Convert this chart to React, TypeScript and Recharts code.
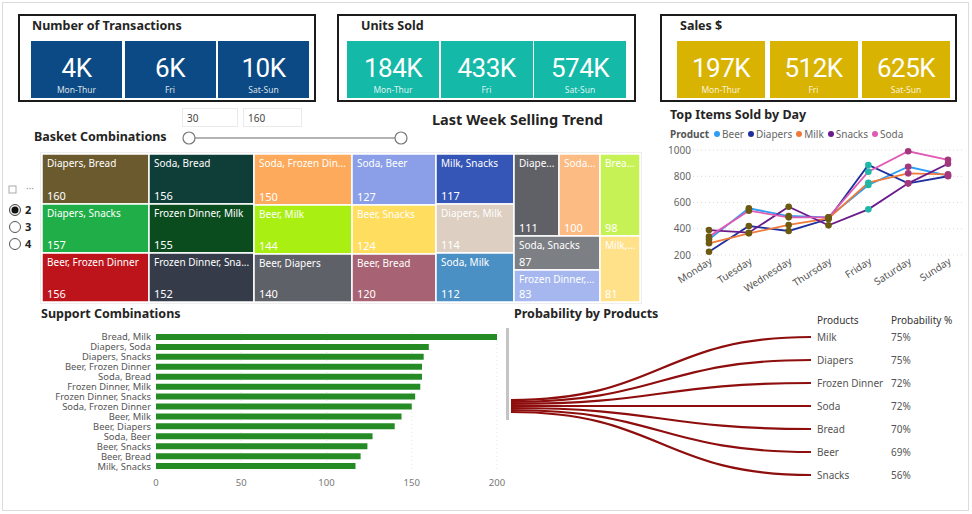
import React from "react";
import { Bar, BarChart, CartesianGrid, Line, LineChart, Sankey, Treemap, XAxis, YAxis } from "recharts";

const FONT = "'Noto Sans', 'Open Sans', sans-serif";

// KPI cards
const kpiPeriods = ["Mon-Thur", "Fri", "Sat-Sun"];
const transactions = ["4K", "6K", "10K"];
const unitsSold = ["184K", "433K", "574K"];
const salesDollars = ["197K", "512K", "625K"];

// basket combinations (treemap)
const basketNames = [
  "Diapers, Bread", "Diapers, Snacks", "Beer, Frozen Dinner", "Soda, Bread", "Frozen Dinner, Milk",
  "Frozen Dinner, Snacks", "Soda, Frozen Dinner", "Beer, Milk", "Beer, Diapers", "Soda, Beer",
  "Beer, Snacks", "Beer, Bread", "Milk, Snacks", "Diapers, Milk", "Soda, Milk",
  "Diapers, Frozen Dinner", "Soda, Diapers", "Bread, Snacks", "Soda, Snacks", "Frozen Dinner, Bread", "Milk, Bread"
];
const basketValues = [160, 157, 156, 156, 155, 152, 150, 144, 140, 127, 124, 120, 117, 114, 112, 111, 100, 98, 87, 83, 81];
const basketColors = [
  "#6b5a2e", "#1fae47", "#bd141b", "#0f3d37", "#0b4c1f",
  "#353b49", "#fdaa5c", "#a9f012", "#5e6168", "#8a9fe8",
  "#ffdd5e", "#a76373", "#3656b7", "#ddcfc1", "#4b90c5",
  "#5f6167", "#fcbb82", "#c7f255", "#7c7f84", "#a5b7ee", "#ffe18a"
];

// top items sold by day
const days = ["Monday", "Tuesday", "Wednesday", "Thursday", "Friday", "Saturday", "Sunday"];
const beer = [319, 556, 497, 487, 733, 872, 805];
const diapers = [225, 421, 383, 474, 886, 746, 800];
const milk = [289, 365, 429, 479, 751, 822, 815];
const snacks = [390, 370, 568, 426, 548, 746, 895];
const soda = [340, 538, 487, 487, 835, 990, 925];
const lineColors = { Beer: "#2b9df2", Diapers: "#1f2f9c", Milk: "#f07a3a", Snacks: "#6b1b8c", Soda: "#e05ab4" };
const markerColors = ["#6b5a10", "#6b5a10", "#6b5a10", "#6b5a10", "#1fb8a6", "#a3377c", "#a3377c"];

// support combinations
const supportNames = [
  "Bread, Milk", "Diapers, Soda", "Diapers, Snacks", "Beer, Frozen Dinner", "Soda, Bread",
  "Frozen Dinner, Milk", "Frozen Dinner, Snacks", "Soda, Frozen Dinner", "Beer, Milk", "Beer, Diapers",
  "Soda, Beer", "Beer, Snacks", "Beer, Bread", "Milk, Snacks"
];
const supportValues = [200, 160, 157, 156, 156, 155, 152, 150, 144, 140, 127, 124, 120, 117];
const supportTicks = [0, 50, 100, 150, 200];

// probability by products
const products = ["Milk", "Diapers", "Frozen Dinner", "Soda", "Bread", "Beer", "Snacks"];
const probabilities = [75, 75, 72, 72, 70, 69, 56];

const colorByName: Record<string, string> = {};
basketNames.forEach((n, i) => (colorByName[n] = basketColors[i]));
const basketData = basketNames.map((name, i) => ({ name, value: basketValues[i] }));

const trendData = days.map((day, i) => ({
  day,
  Beer: beer[i],
  Diapers: diapers[i],
  Milk: milk[i],
  Snacks: snacks[i],
  Soda: soda[i]
}));

const supportData = supportNames.map((name, i) => ({ name, value: supportValues[i] }));

const sankeyData = {
  nodes: [{ name: "All" }, ...products.map((name) => ({ name }))],
  links: products.map((_, i) => ({ source: 0, target: i + 1, value: 1 }))
};

let measureCtx: CanvasRenderingContext2D | null = null;
function textWidth(text: string, font: string) {
  if (!measureCtx) measureCtx = document.createElement("canvas").getContext("2d");
  if (!measureCtx) return text.length * 6;
  measureCtx.font = font;
  return measureCtx.measureText(text).width;
}
function fitText(text: string, maxW: number, font: string) {
  if (textWidth(text, font) <= maxW) return text;
  let t = text;
  while (t.length > 1 && textWidth(t + "...", font) > maxW) t = t.slice(0, -1);
  return t.trimEnd() + "...";
}

function Text({ x, y, size = 12, weight = 400, color = "#252423", children, style }: any) {
  return (
    <div
      style={{
        position: "absolute",
        left: x,
        top: y - 10,
        height: 20,
        lineHeight: "20px",
        fontSize: size,
        fontWeight: weight,
        color,
        whiteSpace: "nowrap",
        ...style
      }}
    >
      {children}
    </div>
  );
}

function KpiGroup({ left, width, title, titleX, tileX, tileW, tileStep, values, color }: any) {
  return (
    <>
      <div style={{ position: "absolute", left, top: 14, width: width - 4, height: 84, border: "2px solid #1b1b1b" }} />
      <Text x={titleX} y={26} size={12.5} weight={700}>
        {title}
      </Text>
      {values.map((v: string, i: number) => (
        <div
          key={i}
          style={{ position: "absolute", left: tileX + i * tileStep, top: 41, width: tileW, height: 57, background: color }}
        >
          <div
            style={{
              position: "absolute",
              top: 12,
              width: "100%",
              textAlign: "center",
              color: "#fff",
              fontFamily: "Roboto, sans-serif",
              fontSize: 26,
              letterSpacing: -0.5,
              lineHeight: "30px"
            }}
          >
            {v}
          </div>
          <div
            style={{
              position: "absolute",
              top: 43,
              width: "100%",
              textAlign: "center",
              color: "rgba(255,255,255,0.85)",
              fontSize: 8.5,
              lineHeight: "12px"
            }}
          >
            {kpiPeriods[i]}
          </div>
        </div>
      ))}
    </>
  );
}

function TreeCell(props: any) {
  const { x, y, width, height, depth, name, value } = props;
  if (depth !== 1) return <g />;
  const font = `10px ${FONT}`;
  return (
    <g>
      <rect x={x} y={y} width={width} height={height} fill={colorByName[name]} stroke="#fff" strokeWidth={1.5} />
      <text x={x + 5} y={y + 13} fill="#fff" stroke="none" fontWeight={400} fontSize={10} fontFamily={FONT}>
        {fitText(name, width - 8, font)}
      </text>
      <text x={x + 5} y={y + height - 4} fill="#fff" stroke="none" fontWeight={400} fontSize={11} fontFamily={FONT}>
        {value}
      </text>
    </g>
  );
}

function TrendDot(props: any) {
  const { cx, cy, index } = props;
  if (cx == null || cy == null) return <g />;
  return <circle cx={cx} cy={cy} r={3.3} fill={markerColors[index]} />;
}

function SupportTick(props: any) {
  const { x, y, payload } = props;
  return (
    <text x={x} y={y} textAnchor="end" dominantBaseline="central" fontSize={9.4} fill="#555" fontFamily={FONT}>
      {payload.value}
    </text>
  );
}

function ProbLink(props: any) {
  const { sourceX, sourceY, targetX, targetY, sourceControlX, targetControlX } = props;
  return (
    <path
      d={`M${sourceX},${sourceY} C${sourceControlX},${sourceY} ${targetControlX},${targetY} ${targetX},${targetY}`}
      fill="none"
      stroke="#8e0d0d"
      strokeWidth={2.2}
    />
  );
}

function ProbNode(props: any) {
  const { x, y, width, height, index, payload } = props;
  if (index === 0) return <g />;
  const cy = y + height / 2;
  const i = products.indexOf(payload.name);
  return (
    <g fontFamily={FONT} fontSize={10} fill="#555">
      <text x={x + width + 4} y={cy} dominantBaseline="central">
        {payload.name}
      </text>
      <text x={x + width + 78} y={cy} dominantBaseline="central">
        {probabilities[i]}%
      </text>
    </g>
  );
}

export default function App() {
  const series = ["Beer", "Diapers", "Milk", "Snacks", "Soda"] as const;
  return (
    <div
      style={{
        position: "absolute",
        left: 0,
        top: 0,
        width: 972,
        height: 514,
        background: "#fff",
        overflow: "hidden",
        fontFamily: FONT,
        color: "#252423"
      }}
    >
      <div style={{ position: "absolute", left: 2, top: 2, width: 965, height: 507, border: "1.5px solid #dcdcdc" }} />

      <KpiGroup left={18} width={298} title="Number of Transactions" titleX={32} tileX={31} tileW={91} tileStep={93.5} values={transactions} color="#0b4a84" />
      <KpiGroup left={337} width={299} title="Units Sold" titleX={361} tileX={347} tileW={92} tileStep={93.5} values={unitsSold} color="#15b9a8" />
      <KpiGroup left={660} width={297} title="Sales $" titleX={680} tileX={677} tileW={88} tileStep={92.5} values={salesDollars} color="#d9b301" />

      {/* slicer */}
      <div style={{ position: "absolute", left: 182, top: 108, width: 56, height: 19, border: "1px solid #eaeaea", fontSize: 10, lineHeight: "19px", paddingLeft: 4, boxSizing: "border-box", color: "#444" }}>30</div>
      <div style={{ position: "absolute", left: 243, top: 108, width: 59, height: 19, border: "1px solid #eaeaea", fontSize: 10, lineHeight: "19px", paddingLeft: 4, boxSizing: "border-box", color: "#444" }}>160</div>
      <svg style={{ position: "absolute", left: 0, top: 0 }} width={972} height={514} pointerEvents="none">
        <line x1={189} y1={138} x2={401} y2={138} stroke="#9a9a9a" strokeWidth={1.5} />
        <circle cx={189} cy={138} r={6} fill="#fff" stroke="#777" strokeWidth={1.2} />
        <circle cx={401} cy={138} r={6} fill="#fff" stroke="#777" strokeWidth={1.2} />
        {/* radio buttons */}
        <rect x={9} y={186} width={7} height={7} fill="none" stroke="#aaa" strokeWidth={1} />
        <text x={26} y={192} fontSize={10} fill="#999" fontFamily={FONT}>
          ···
        </text>
        <circle cx={15} cy={210} r={5.5} fill="#eee" stroke="#444" strokeWidth={1} />
        <circle cx={15} cy={210} r={3.5} fill="#111" />
        <circle cx={15} cy={227} r={5.5} fill="#fff" stroke="#555" strokeWidth={1} />
        <circle cx={15} cy={244} r={5.5} fill="#fff" stroke="#555" strokeWidth={1} />
        <g fontFamily={FONT} fontSize={11} fontWeight={700} fill="#222">
          <text x={25} y={214}>2</text>
          <text x={25} y={231}>3</text>
          <text x={25} y={248}>4</text>
        </g>
        {/* bar chart scrollbar */}
        <rect x={506} y={328} width={3} height={92} fill="#c4c4c4" />
      </svg>

      <Text x={34} y={137} size={12.5} weight={700}>Basket Combinations</Text>
      <Text x={432} y={119} size={14.5} weight={700}>Last Week Selling Trend</Text>

      <div style={{ position: "absolute", left: 40, top: 152, width: 602, height: 152, border: "1px solid #eee", boxSizing: "border-box" }} />
      <div style={{ position: "absolute", left: 42, top: 154 }}>
        <Treemap
          width={598}
          height={148}
          data={basketData}
          dataKey="value"
          nameKey="name"
          stroke="#fff"
          isAnimationActive={false}
          content={<TreeCell />}
        />
      </div>

      {/* line chart */}
      <Text x={670} y={115} size={12.5} weight={700}>Top Items Sold by Day</Text>
      <div style={{ position: "absolute", left: 670, top: 125, height: 18, display: "flex", alignItems: "center", fontSize: 10, color: "#666", whiteSpace: "nowrap" }}>
        <span style={{ fontWeight: 700, color: "#555", marginRight: 5 }}>Product</span>
        {series.map((s) => (
          <span key={s} style={{ display: "inline-flex", alignItems: "center", marginRight: 4 }}>
            <span style={{ width: 6, height: 6, borderRadius: 3, background: lineColors[s], marginRight: 2 }} />
            {s}
          </span>
        ))}
      </div>
      <div style={{ position: "absolute", left: 660, top: 140 }}>
        <LineChart width={310} height={160} data={trendData} margin={{ top: 10, right: 7, bottom: 0, left: 0 }}>
          <CartesianGrid stroke="#d8d8d8" strokeDasharray="1 3" vertical={false} />
          <XAxis
            dataKey="day"
            height={45}
            interval={0}
            padding={{ left: 16, right: 15 }}
            axisLine={false}
            tickLine={false}
            tickSize={0}
            tick={{ angle: -33, textAnchor: "end", fontSize: 10, fill: "#555", fontFamily: FONT }}
          />
          <YAxis
            width={33}
            domain={[200, 1000]}
            ticks={[200, 400, 600, 800, 1000]}
            axisLine={false}
            tickLine={false}
            tickSize={0}
            tickMargin={2}
            tick={{ fontSize: 10, fill: "#666", fontFamily: FONT }}
          />
          {series.map((s) => (
            <Line
              key={s}
              type="linear"
              dataKey={s}
              stroke={lineColors[s]}
              strokeWidth={1.8}
              dot={<TrendDot />}
              activeDot={false}
              isAnimationActive={false}
            />
          ))}
        </LineChart>
      </div>

      {/* support combinations */}
      <Text x={41} y={314} size={12.5} weight={700}>Support Combinations</Text>
      <div style={{ position: "absolute", left: 30, top: 320 }}>
        <BarChart width={480} height={175} data={supportData} layout="vertical" margin={{ top: 12, right: 13, bottom: 4, left: 0 }}>
          <CartesianGrid stroke="#e2e2e2" strokeDasharray="1 3" horizontal={false} />
          <XAxis
            type="number"
            domain={[0, 200]}
            ticks={supportTicks}
            height={20}
            axisLine={false}
            tickLine={false}
            tick={{ fontSize: 9.5, fill: "#777", fontFamily: FONT }}
          />
          <YAxis
            type="category"
            dataKey="name"
            width={126}
            interval={0}
            axisLine={false}
            tickLine={false}
            tickSize={0}
            tickMargin={5}
            tick={<SupportTick />}
          />
          <Bar dataKey="value" fill="#258c25" barSize={6} isAnimationActive={false} />
        </BarChart>
      </div>

      {/* probability by products */}
      <Text x={514} y={314} size={12.5} weight={700}>Probability by Products</Text>
      <Text x={817} y={320} size={10} color="#333">Products</Text>
      <Text x={891} y={320} size={10} color="#333">Probability %</Text>
      <div style={{ position: "absolute", left: 500, top: 300 }}>
        <Sankey
          width={470}
          height={200}
          data={sankeyData}
          nodeWidth={2}
          nodePadding={21}
          linkCurvature={0.5}
          margin={{ top: 36, right: 157, bottom: 24, left: 9 }}
          node={<ProbNode />}
          link={<ProbLink />}
        />
      </div>
    </div>
  );
}
